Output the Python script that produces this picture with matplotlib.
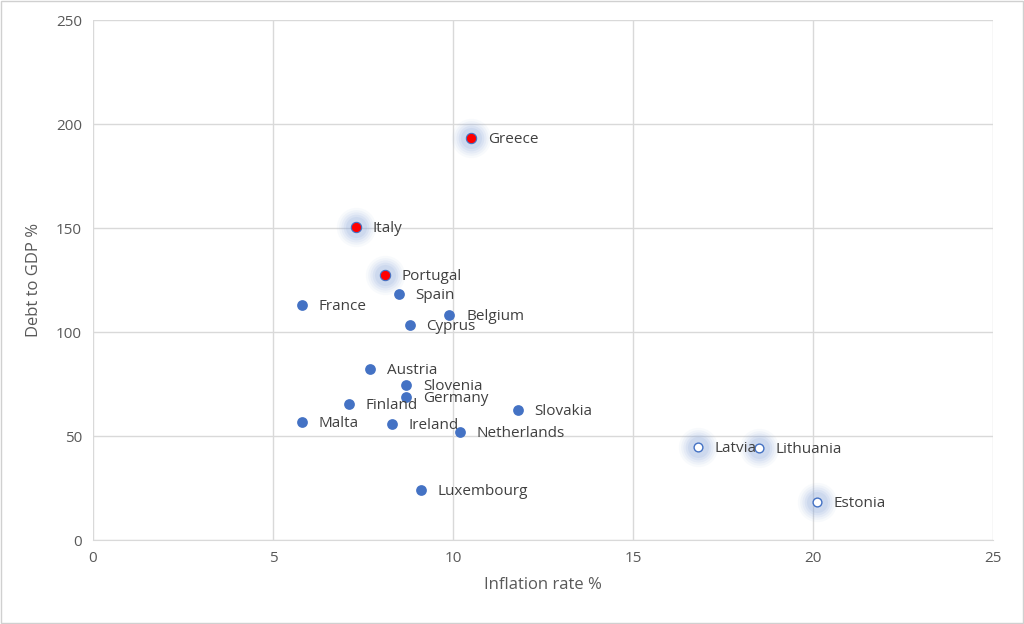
import matplotlib.pyplot as plt
from matplotlib.patches import Rectangle

countries = ['Greece', 'Italy', 'Portugal', 'Spain', 'France', 'Belgium', 'Cyprus',
             'Austria', 'Slovenia', 'Germany', 'Finland', 'Slovakia', 'Malta',
             'Ireland', 'Netherlands', 'Luxembourg', 'Latvia', 'Lithuania', 'Estonia']
inflation = [10.5, 7.3, 8.1, 8.5, 5.8, 9.9, 8.8,
             7.7, 8.7, 8.7, 7.1, 11.8, 5.8,
             8.3, 10.2, 9.1, 16.8, 18.5, 20.1]
debt = [193.3, 150.5, 127.4, 118.3, 113.0, 108.2, 103.4,
        82.2, 74.5, 68.8, 65.4, 62.5, 56.7,
        55.8, 51.9, 24.0, 44.7, 44.2, 18.3]
# groups: 'high' = red with glow, 'baltic' = hollow with glow, else plain blue
group = ['high', 'high', 'high', '', '', '', '',
         '', '', '', '', '', '',
         '', '', '', 'baltic', 'baltic', 'baltic']

blue = '#4472C4'
plt.rcParams['font.family'] = ['Open Sans', 'DejaVu Sans']

fig = plt.figure(figsize=(10.24, 6.24), dpi=100)
ax = fig.add_axes([93 / 1024, 1 - 540 / 624, 900 / 1024, 520 / 624])

# glow behind the highlighted points
for x, y, g in zip(inflation, debt, group):
    if g:
        for s, a in [(800, 0.06), (620, 0.08), (470, 0.10), (340, 0.13), (230, 0.15)]:
            ax.scatter(x, y, s=s, color='#8faadc', alpha=a, linewidths=0, zorder=2)

for x, y, g in zip(inflation, debt, group):
    if g == 'high':
        ax.scatter(x, y, s=55, color='red', edgecolors=blue, linewidths=0.8, zorder=3)
    elif g == 'baltic':
        ax.scatter(x, y, s=40, color='white', edgecolors=blue, linewidths=1.0, zorder=3)
    else:
        ax.scatter(x, y, s=60, color=blue, linewidths=0, zorder=3)

for x, y, name in zip(inflation, debt, countries):
    ax.annotate(name, (x, y), xytext=(12, -1), textcoords='offset points',
                va='center', ha='left', fontsize=11, color='#404040', zorder=4)

ax.set_xlim(0, 25)
ax.set_ylim(0, 250)
ax.set_xticks([0, 5, 10, 15, 20, 25])
ax.set_yticks([0, 50, 100, 150, 200, 250])
ax.grid(True, color='#d9d9d9', linewidth=1)
ax.set_axisbelow(True)
for sp in ['top', 'right', 'left']:
    ax.spines[sp].set_visible(False)
ax.spines['bottom'].set_color('#d9d9d9')
ax.tick_params(length=0, colors='#595959', labelsize=11, pad=8)
ax.set_xlabel('Inflation rate %', fontsize=12, color='#595959', labelpad=8)
ax.set_ylabel('Debt to GDP %', fontsize=12, color='#595959', labelpad=10)

fig.patches.append(Rectangle((0.001, 0.001), 0.998, 0.997, transform=fig.transFigure,
                             fill=False, edgecolor='#d0d0d0', linewidth=1))

fig.savefig('out.png', dpi=100)
